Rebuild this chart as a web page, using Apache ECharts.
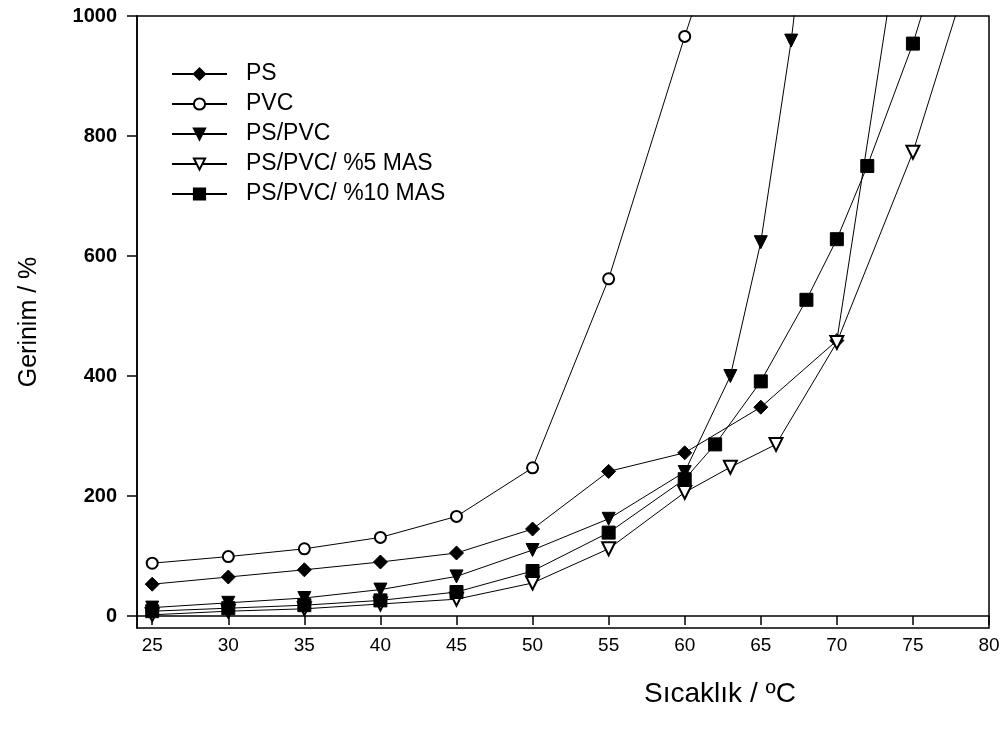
<!DOCTYPE html>
<html>
<head>
<meta charset="utf-8">
<script src="https://cdn.jsdelivr.net/npm/echarts@6/dist/echarts.min.js"></script>
<style>html,body{margin:0;padding:0;background:#fff}#c{width:1008px;height:735px}</style>
</head>
<body>
<div id="c"></div>
<script>
const xTicks = [25, 30, 35, 40, 45, 50, 55, 60, 65, 70, 75, 80];
const yTicks = [0, 200, 400, 600, 800, 1000];

const psData = [[25,53],[30,65],[35,77],[40,90],[45,105],[50,145],[55,241],[60,272],[65,348],[70,459],[75,1280]];
const pvcData = [[25,88],[30,99],[35,112],[40,131],[45,166],[50,247],[55,562],[60,966],[65,1350]];
const psPvcData = [[25,14],[30,22],[35,30],[40,44],[45,66],[50,110],[55,162],[60,240],[63,400],[65,623],[67,959],[70,1600]];
const mas5Data = [[25,2],[30,8],[35,12],[40,20],[45,28],[50,55],[55,112],[60,206],[63,248],[66,286],[70,456],[75,773],[80,1180]];
const mas10Data = [[25,8],[30,13],[35,18],[40,26],[45,40],[50,75],[55,139],[60,228],[62,286],[65,391],[68,527],[70,628],[72,750],[75,954],[77,1120]];

const names = ['PS', 'PVC', 'PS/PVC', 'PS/PVC/ %5 MAS', 'PS/PVC/ %10 MAS'];

function mk(name, data, symbol, size, rotate) {
  return {
    name: name, type: 'line', data: data,
    symbol: symbol, symbolSize: size, symbolRotate: rotate || 0,
    lineStyle: {color: '#000', width: 1},
    itemStyle: {color: '#000', borderColor: '#000', borderWidth: 1},
    clip: true, animation: false
  };
}

const FONT = 'Liberation Sans, Arial, sans-serif';
const chart = echarts.init(document.getElementById('c'), null, {renderer: 'canvas'});
chart.setOption({
  backgroundColor: '#fff',
  animation: false,
  grid: {left: 137, right: 19, top: 16, bottom: 107, show: true, borderColor: '#000', borderWidth: 1.5, backgroundColor: 'transparent'},
  legend: {
    orient: 'vertical', left: 166, top: 57, itemGap: 6, itemWidth: 55, itemHeight: 14,
    data: names,
    textStyle: {fontFamily: FONT, fontSize: 23, lineHeight: 24, color: '#000', padding: [0, 0, 0, 14]}
  },
  xAxis: {
    type: 'value', min: 24, max: 80,
    name: 'Sıcaklık / ºC', nameLocation: 'middle', nameGap: 52,
    nameTextStyle: {fontFamily: FONT, fontSize: 28, color: '#000', padding: [0, 0, 0, 314]},
    axisLine: {lineStyle: {color: '#000', width: 1.5}},
    axisTick: {show: true, length: 9, lineStyle: {color: '#000', width: 1.5}, customValues: xTicks},
    axisLabel: {color: '#000', fontFamily: FONT, fontSize: 19, margin: 8, customValues: xTicks},
    splitLine: {show: false}
  },
  yAxis: {
    type: 'value', min: -20, max: 1000,
    name: 'Gerinim / %', nameLocation: 'middle', nameGap: 95,
    nameTextStyle: {fontFamily: FONT, fontSize: 25, color: '#000'},
    axisLine: {show: true, lineStyle: {color: '#000', width: 1.5}},
    axisTick: {show: true, length: 10, lineStyle: {color: '#000', width: 1.5}, customValues: yTicks},
    axisLabel: {color: '#000', fontFamily: FONT, fontSize: 20, fontWeight: 'bold', margin: 20, customValues: yTicks, formatter: function (v) { return String(v); }},
    splitLine: {show: false}
  },
  series: [
    mk(names[0], psData, 'diamond', 14),
    mk(names[1], pvcData, 'emptyCircle', 11),
    mk(names[2], psPvcData, 'triangle', 13, 180),
    mk(names[3], mas5Data, 'emptyTriangle', 13, 180),
    mk(names[4], mas10Data, 'rect', 13)
  ]
});
</script>
</body>
</html>
